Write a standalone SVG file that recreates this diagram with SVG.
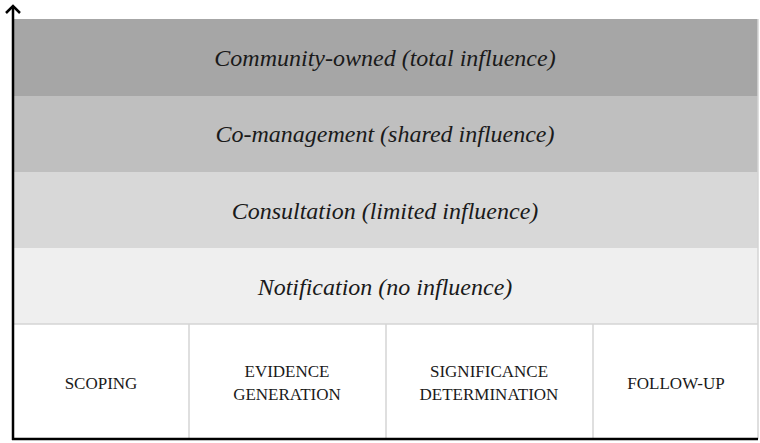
<svg xmlns="http://www.w3.org/2000/svg" width="760" height="443" viewBox="0 0 760 443">
<style>
.band-label{font-family:"Liberation Serif","Times New Roman",serif;font-style:italic;font-size:24px;fill:#1a1a1a;text-anchor:middle}
.stage{font-family:"Liberation Serif","Times New Roman",serif;font-size:17px;fill:#1a1a1a;text-anchor:middle}
.div{stroke:#d4d4d4;stroke-width:1.5}
.axis{stroke:#000;stroke-width:2.5;fill:none}
</style>
<rect width="760" height="443" fill="#fff"/>
<g id="band-community">
<rect x="14" y="19" width="744" height="77" fill="#a6a6a6"/>
<text class="band-label" x="385" y="66">Community-owned (total influence)</text>
</g>
<g id="band-comanagement">
<rect x="14" y="96" width="744" height="76" fill="#bfbfbf"/>
<text class="band-label" x="385" y="142">Co-management (shared influence)</text>
</g>
<g id="band-consultation">
<rect x="14" y="172" width="744" height="76" fill="#d8d8d8"/>
<text class="band-label" x="385" y="219">Consultation (limited influence)</text>
</g>
<g id="band-notification">
<rect x="14" y="248" width="744" height="76" fill="#efefef"/>
<text class="band-label" x="385" y="295">Notification (no influence)</text>
</g>
<g id="stage-scoping">
<rect x="14" y="324" width="175" height="115" fill="#fff"/>
<text class="stage" x="101" y="389">SCOPING</text>
</g>
<g id="stage-evidence">
<rect x="189" y="324" width="197" height="115" fill="#fff"/>
<text class="stage" x="287" y="377">EVIDENCE</text>
<text class="stage" x="287" y="400">GENERATION</text>
</g>
<g id="stage-significance">
<rect x="386" y="324" width="207" height="115" fill="#fff"/>
<text class="stage" x="489" y="377">SIGNIFICANCE</text>
<text class="stage" x="489" y="400">DETERMINATION</text>
</g>
<g id="stage-followup">
<rect x="593" y="324" width="165" height="115" fill="#fff"/>
<text class="stage" x="676" y="389">FOLLOW-UP</text>
</g>
<g id="connectors">
<line class="div" x1="14" y1="324" x2="758" y2="324"/>
<line class="div" x1="189" y1="324" x2="189" y2="439"/>
<line class="div" x1="386" y1="324" x2="386" y2="439"/>
<line class="div" x1="593" y1="324" x2="593" y2="439"/>
<line class="div" x1="758" y1="19" x2="758" y2="439"/>
<line class="axis" x1="13" y1="440" x2="13" y2="6"/>
<polyline class="axis" points="6,13 13,6 20,13"/>
<line class="axis" x1="12" y1="439" x2="758" y2="439"/>
</g>
</svg>
